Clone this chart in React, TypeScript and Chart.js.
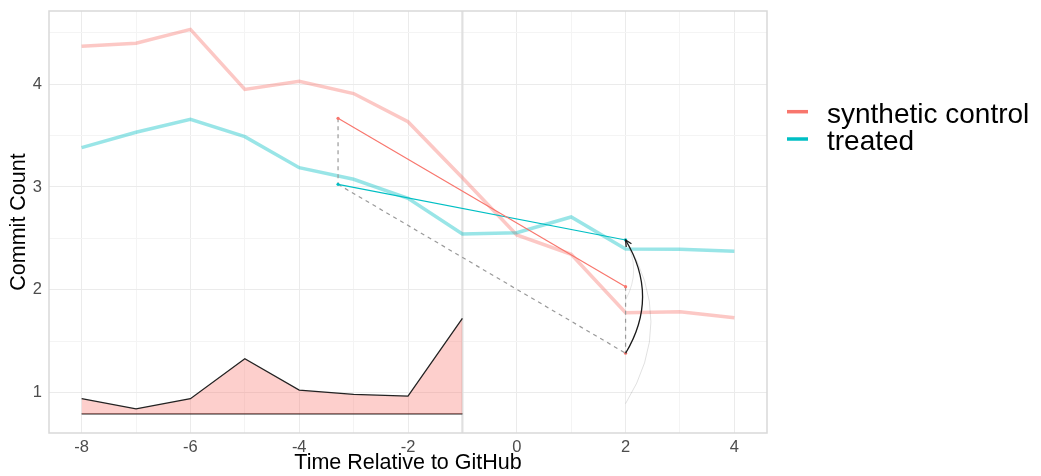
import React, { useEffect, useRef } from "react";
import { Chart, registerables } from "chart.js";

Chart.register(...registerables);

// ---- data ----
const TIME = [-8, -7, -6, -5, -4, -3, -2, -1, 0, 1, 2, 3, 4];
const SYNTHETIC = [4.37, 4.4, 4.535, 3.95, 4.03, 3.91, 3.636, 3.09, 2.533, 2.345, 1.776, 1.786, 1.727];
const TREATED = [3.383, 3.533, 3.659, 3.49, 3.188, 3.075, 2.89, 2.542, 2.555, 2.708, 2.396, 2.393, 2.374];

const PRE_TIME = [-8, -7, -6, -5, -4, -3, -2, -1];
const WEIGHTS = [0.938, 0.84, 0.938, 1.327, 1.022, 0.98, 0.964, 1.72];
const WEIGHT_BASE = 0.79;

const EVENT_TIME = -1;

const PRE_X = -3.286;
const POST_X = 2;
const SC_PRE = 3.669;
const SC_POST = 2.029;
const TR_PRE = 3.026;
const TR_POST = 2.484;
const CF_POST = 1.381;

// curves: [x1, y1, x2, y2, curvature, color, width, arrow]
const CURVES: [number, number, number, number, number, string, number, boolean][] = [
  [POST_X, 0.89, POST_X, TR_POST, 0.31, "rgba(0,0,0,0.12)", 1, false],
  [POST_X, 1.9, POST_X, TR_POST, 0.27, "rgba(0,0,0,0.10)", 1, false],
  [POST_X, CF_POST, POST_X, TR_POST, 0.3, "#1a1a1a", 1.3, true],
];

const X_MIN = -8.6, X_MAX = 4.6;
const Y_MIN = 0.604, Y_MAX = 4.714;

const LEGEND_LABELS = ["synthetic control", "treated"];
const LEGEND_COLORS = ["#F8766D", "#00BFC4"];

const FONT = "'Liberation Sans', Arial, sans-serif";

const pts = (xs: number[], ys: number[]) => xs.map((x, i) => ({ x, y: ys[i] }));

const overlayPlugin = {
  id: "overlay",
  afterDatasetsDraw(chart: any) {
    const { ctx, scales } = chart;
    const xs = scales.x, ys = scales.y;
    ctx.save();
    for (const [x1, y1, x2, y2, curv, color, w, arrow] of CURVES) {
      const p0x = xs.getPixelForValue(x1), p0y = ys.getPixelForValue(y1);
      const p2x = xs.getPixelForValue(x2), p2y = ys.getPixelForValue(y2);
      const dx = p2x - p0x, dy = p2y - p0y;
      const cx = (p0x + p2x) / 2 - dy * curv;
      const cy = (p0y + p2y) / 2 + dx * curv;
      ctx.strokeStyle = color;
      ctx.lineWidth = w;
      ctx.beginPath();
      ctx.moveTo(p0x, p0y);
      ctx.quadraticCurveTo(cx, cy, p2x, p2y);
      ctx.stroke();
      if (arrow) {
        const ang = Math.atan2(p2y - cy, p2x - cx);
        const L = 7, a = Math.PI / 7;
        ctx.beginPath();
        ctx.moveTo(p2x - L * Math.cos(ang - a), p2y - L * Math.sin(ang - a));
        ctx.lineTo(p2x, p2y);
        ctx.lineTo(p2x - L * Math.cos(ang + a), p2y - L * Math.sin(ang + a));
        ctx.stroke();
      }
    }
    ctx.restore();
  },
  afterDraw(chart: any) {
    const { ctx, chartArea } = chart;
    ctx.save();
    ctx.strokeStyle = "#D9D9D9";
    ctx.lineWidth = 1.5;
    ctx.strokeRect(chartArea.left, chartArea.top, chartArea.right - chartArea.left, chartArea.bottom - chartArea.top);
    // legend
    ctx.font = `28px ${FONT}`;
    ctx.textBaseline = "alphabetic";
    LEGEND_LABELS.forEach((lab, i) => {
      const base = 122.7 + i * 27.3;
      ctx.strokeStyle = LEGEND_COLORS[i];
      ctx.lineWidth = 3.5;
      ctx.beginPath();
      ctx.moveTo(787, base - 11);
      ctx.lineTo(808, base - 11);
      ctx.stroke();
      ctx.fillStyle = "#000";
      ctx.fillText(lab, 827, base);
    });
    ctx.restore();
  },
};

export default function App() {
  const ref = useRef<HTMLCanvasElement>(null);
  useEffect(() => {
    if (!ref.current) return;
    const seg = (data: any[], color: string, extra: any = {}) => ({
      data,
      borderColor: color,
      backgroundColor: color,
      borderWidth: 1.2,
      pointRadius: 1.6,
      pointBorderWidth: 0,
      fill: false,
      ...extra,
    });
    const dashed = { borderDash: [4, 4], pointRadius: 0 };
    const chart = new Chart(ref.current, {
      type: "line",
      data: {
        datasets: [
          seg([{ x: PRE_X, y: SC_PRE }, { x: POST_X, y: SC_POST }], "#F8766D"),
          seg([{ x: PRE_X, y: TR_PRE }, { x: POST_X, y: TR_POST }], "#00BFC4"),
          seg([{ x: PRE_X, y: SC_PRE }, { x: PRE_X, y: TR_PRE }], "#9a9a9a", dashed),
          seg([{ x: PRE_X, y: TR_PRE }, { x: POST_X, y: CF_POST }], "#9a9a9a", dashed),
          seg([{ x: POST_X, y: SC_POST }, { x: POST_X, y: CF_POST }], "#9a9a9a", dashed),
          seg([{ x: POST_X, y: CF_POST }], "#F8766D", { showLine: false }),
          {
            data: pts(PRE_TIME, WEIGHTS),
            borderColor: "#222",
            borderWidth: 1.3,
            backgroundColor: "rgba(248,118,109,0.35)",
            pointRadius: 0,
            fill: { value: WEIGHT_BASE },
          },
          {
            data: PRE_TIME.map((x) => ({ x, y: WEIGHT_BASE })),
            borderColor: "#222",
            borderWidth: 1.3,
            pointRadius: 0,
            fill: false,
          },
          {
            data: pts(TIME, TREATED),
            borderColor: "rgba(0,191,196,0.4)",
            borderWidth: 3.5,
            pointRadius: 0,
            fill: false,
          },
          {
            data: pts(TIME, SYNTHETIC),
            borderColor: "rgba(248,118,109,0.4)",
            borderWidth: 3.5,
            pointRadius: 0,
            fill: false,
          },
          {
            data: [{ x: EVENT_TIME, y: Y_MIN }, { x: EVENT_TIME, y: Y_MAX }],
            borderColor: "#E0E0E0",
            borderWidth: 2.2,
            pointRadius: 0,
            fill: false,
          },
        ],
      },
      options: {
        responsive: false,
        animation: false,
        events: [],
        layout: { padding: { left: 0, top: 11, right: 1041 - 767, bottom: 0 } },
        plugins: { legend: { display: false }, tooltip: { enabled: false } },
        scales: {
          x: {
            type: "linear",
            min: X_MIN,
            max: X_MAX,
            afterFit: (s: any) => { s.height = 43; s.paddingLeft = 0; s.paddingRight = 0; },
            border: { display: false },
            grid: {
              drawTicks: false,
              color: (c: any) => (c.tick && Math.round(c.tick.value) % 2 === 0 ? "#EBEBEB" : "#F4F4F4"),
              lineWidth: 1,
            },
            ticks: {
              stepSize: 1,
              includeBounds: false,
              autoSkip: false,
              maxRotation: 0,
              padding: 5,
              color: "#4D4D4D",
              font: { family: FONT, size: 16.5 },
              callback: (v: any) => (Math.round(v) % 2 === 0 ? String(v) : ""),
            },
            title: {
              display: true,
              text: "Time Relative to GitHub",
              color: "#000",
              font: { family: FONT, size: 21.5 },
              padding: { top: 0, bottom: 0 },
            },
          },
          y: {
            type: "linear",
            min: Y_MIN,
            max: Y_MAX,
            afterFit: (s: any) => { s.width = 49; s.paddingTop = 0; s.paddingBottom = 0; },
            border: { display: false },
            grid: {
              drawTicks: false,
              color: (c: any) => (c.tick && Math.abs(c.tick.value - Math.round(c.tick.value)) < 1e-6 ? "#EBEBEB" : "#F4F4F4"),
              lineWidth: 1,
            },
            ticks: {
              stepSize: 0.5,
              includeBounds: false,
              autoSkip: false,
              padding: 7,
              color: "#4D4D4D",
              font: { family: FONT, size: 16.5 },
              callback: (v: any) => (Math.abs(v - Math.round(v)) < 1e-6 ? String(Math.round(v)) : ""),
            },
            title: {
              display: true,
              text: "Commit Count",
              color: "#000",
              font: { family: FONT, size: 21.5 },
              padding: { top: 6, bottom: 0 },
            },
          },
        },
      },
      plugins: [overlayPlugin],
    } as any);
    return () => chart.destroy();
  }, []);
  return (
    <div style={{ position: "fixed", left: 0, top: 0, width: 1041, height: 476, background: "#fff" }}>
      <canvas ref={ref} width={1041} height={476} style={{ display: "block" }} />
    </div>
  );
}
